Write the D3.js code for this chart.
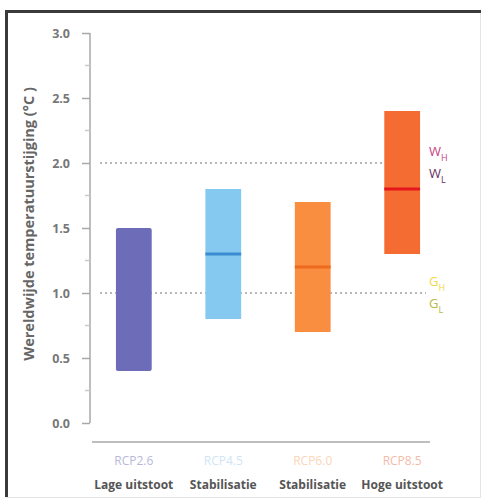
<!DOCTYPE html>
<html>
<head>
<meta charset="utf-8">
<script src="https://cdn.jsdelivr.net/npm/d3@7"></script>
<style>
  body { margin: 0; background: #fff; }
  text { font-family: "Open Sans", sans-serif; }
</style>
</head>
<body>
<svg id="svg" width="485" height="501"></svg>
<script>
// scenario data
const categories = ["RCP2.6", "RCP4.5", "RCP6.0", "RCP8.5"];
const subLabels = ["Lage uitstoot", "Stabilisatie", "Stabilisatie", "Hoge uitstoot"];
const lows = [0.4, 0.8, 0.7, 1.3];
const highs = [1.5, 1.8, 1.7, 2.4];
const medians = [null, 1.3, 1.2, 1.8];
const yTicks = [0, 0.5, 1.0, 1.5, 2.0, 2.5, 3.0];
const yMinorTicks = [0.25, 0.75, 1.25, 1.75, 2.25, 2.75];
const thresholds = [2.0, 1.0];
const thresholdLabels = [["W", "H", "W", "L"], ["G", "H", "G", "L"]];

const barColors = ["#6c6cb8", "#85c8f0", "#f98d40", "#f56c32"];
const medianColors = ["none", "#3a8dd0", "#ee6a1e", "#e4161c"];
const catColors = ["#b8b8da", "#cfe5f5", "#fbd6b8", "#f5bba8"];
const threshColors = [["#c8407e", "#6a2d60"], ["#f0d848", "#b8b844"]];

const svg = d3.select("#svg");

// frame
svg.append("rect").attr("x", 6.5).attr("y", 11.5).attr("width", 474).attr("height", 486)
    .attr("fill", "none").attr("stroke", "#e4e4e4").attr("stroke-width", 1);
svg.append("path").attr("d", "M6.5,497 V11.5 H481")
    .attr("fill", "none").attr("stroke", "#3a3a3a").attr("stroke-width", 3);

const yScale = d3.scaleLinear().domain([0, 3]).range([423, 33]);
const xScale = d3.scaleBand().domain(categories)
    .range([90, 446]).paddingInner(0.6).paddingOuter(0.29);

// y axis
const yAxis = d3.axisLeft(yScale).tickValues(yTicks).tickSize(8).tickPadding(12)
    .tickFormat(d3.format(".1f"));
const gy = svg.append("g").attr("transform", "translate(90,0)").call(yAxis);
gy.select(".domain").remove();
gy.selectAll(".tick line").attr("stroke", "#a8a8a8").attr("stroke-width", 1.5);
gy.selectAll(".tick text").attr("fill", "#777").attr("font-size", 12.5)
    .attr("font-weight", 700);
gy.append("line").attr("x1", 0).attr("x2", 0)
    .attr("y1", yScale(3)).attr("y2", yScale(0))
    .attr("stroke", "#a8a8a8").attr("stroke-width", 1.5);
gy.selectAll(".minor").data(yMinorTicks).join("line")
    .attr("x1", -5).attr("x2", 0)
    .attr("y1", d => yScale(d)).attr("y2", d => yScale(d))
    .attr("stroke", "#c8c8c8").attr("stroke-width", 1.5);

// y title
svg.append("text")
    .attr("transform", `translate(34,${224}) rotate(-90)`)
    .attr("text-anchor", "middle")
    .attr("fill", "#666").attr("font-size", 14.5).attr("font-weight", 700)
    .text("Wereldwijde temperatuurstijging (°C )");

// dotted threshold lines
const lineEnds = [xScale("RCP8.5"), 426];
thresholds.forEach((t, i) => {
    svg.append("line")
        .attr("x1", 100).attr("x2", lineEnds[i])
        .attr("y1", yScale(t)).attr("y2", yScale(t))
        .attr("stroke", "#a0a0a0").attr("stroke-width", 1.5)
        .attr("stroke-dasharray", "2,3");
});

// bars
const bars = categories.map((c, i) => ({ c, lo: lows[i], hi: highs[i], med: medians[i], i }));
svg.selectAll(".bar").data(bars).join("rect")
    .attr("x", d => xScale(d.c))
    .attr("width", xScale.bandwidth())
    .attr("y", d => yScale(d.hi))
    .attr("height", d => yScale(d.lo) - yScale(d.hi))
    .attr("rx", d => d.i === 0 ? 2 : 0)
    .attr("fill", d => barColors[d.i]);

svg.selectAll(".med").data(bars.filter(d => d.med !== null)).join("line")
    .attr("x1", d => xScale(d.c)).attr("x2", d => xScale(d.c) + xScale.bandwidth())
    .attr("y1", d => yScale(d.med)).attr("y2", d => yScale(d.med))
    .attr("stroke", d => medianColors[d.i]).attr("stroke-width", 3);

// threshold labels
thresholds.forEach((t, i) => {
    const y = yScale(t);
    const lab = thresholdLabels[i];
    const g = svg.append("g").attr("transform", `translate(429,${y})`);
    const t1 = g.append("text").attr("y", -7).attr("font-size", 13).attr("fill", threshColors[i][0]);
    t1.append("tspan").text(lab[0]);
    t1.append("tspan").attr("dy", 5).attr("font-size", 9).text(lab[1]);
    const t2 = g.append("text").attr("y", 15).attr("font-size", 13).attr("fill", threshColors[i][1]);
    t2.append("tspan").text(lab[2]);
    t2.append("tspan").attr("dy", 5).attr("font-size", 9).text(lab[3]);
});

// x axis line
svg.append("line").attr("x1", 92).attr("x2", 430)
    .attr("y1", 442).attr("y2", 442)
    .attr("stroke", "#a8a8a8").attr("stroke-width", 1.5);

// category labels
svg.selectAll(".cat").data(categories).join("text")
    .attr("x", d => xScale(d) + xScale.bandwidth() / 2)
    .attr("y", 465)
    .attr("text-anchor", "middle").attr("font-size", 12)
    .attr("fill", (d, i) => catColors[i])
    .text(d => d);
svg.selectAll(".sub").data(subLabels).join("text")
    .attr("x", (d, i) => xScale(categories[i]) + xScale.bandwidth() / 2)
    .attr("y", 489)
    .attr("text-anchor", "middle").attr("font-size", 12).attr("font-weight", 700)
    .attr("fill", "#555")
    .text(d => d);
</script>
</body>
</html>
